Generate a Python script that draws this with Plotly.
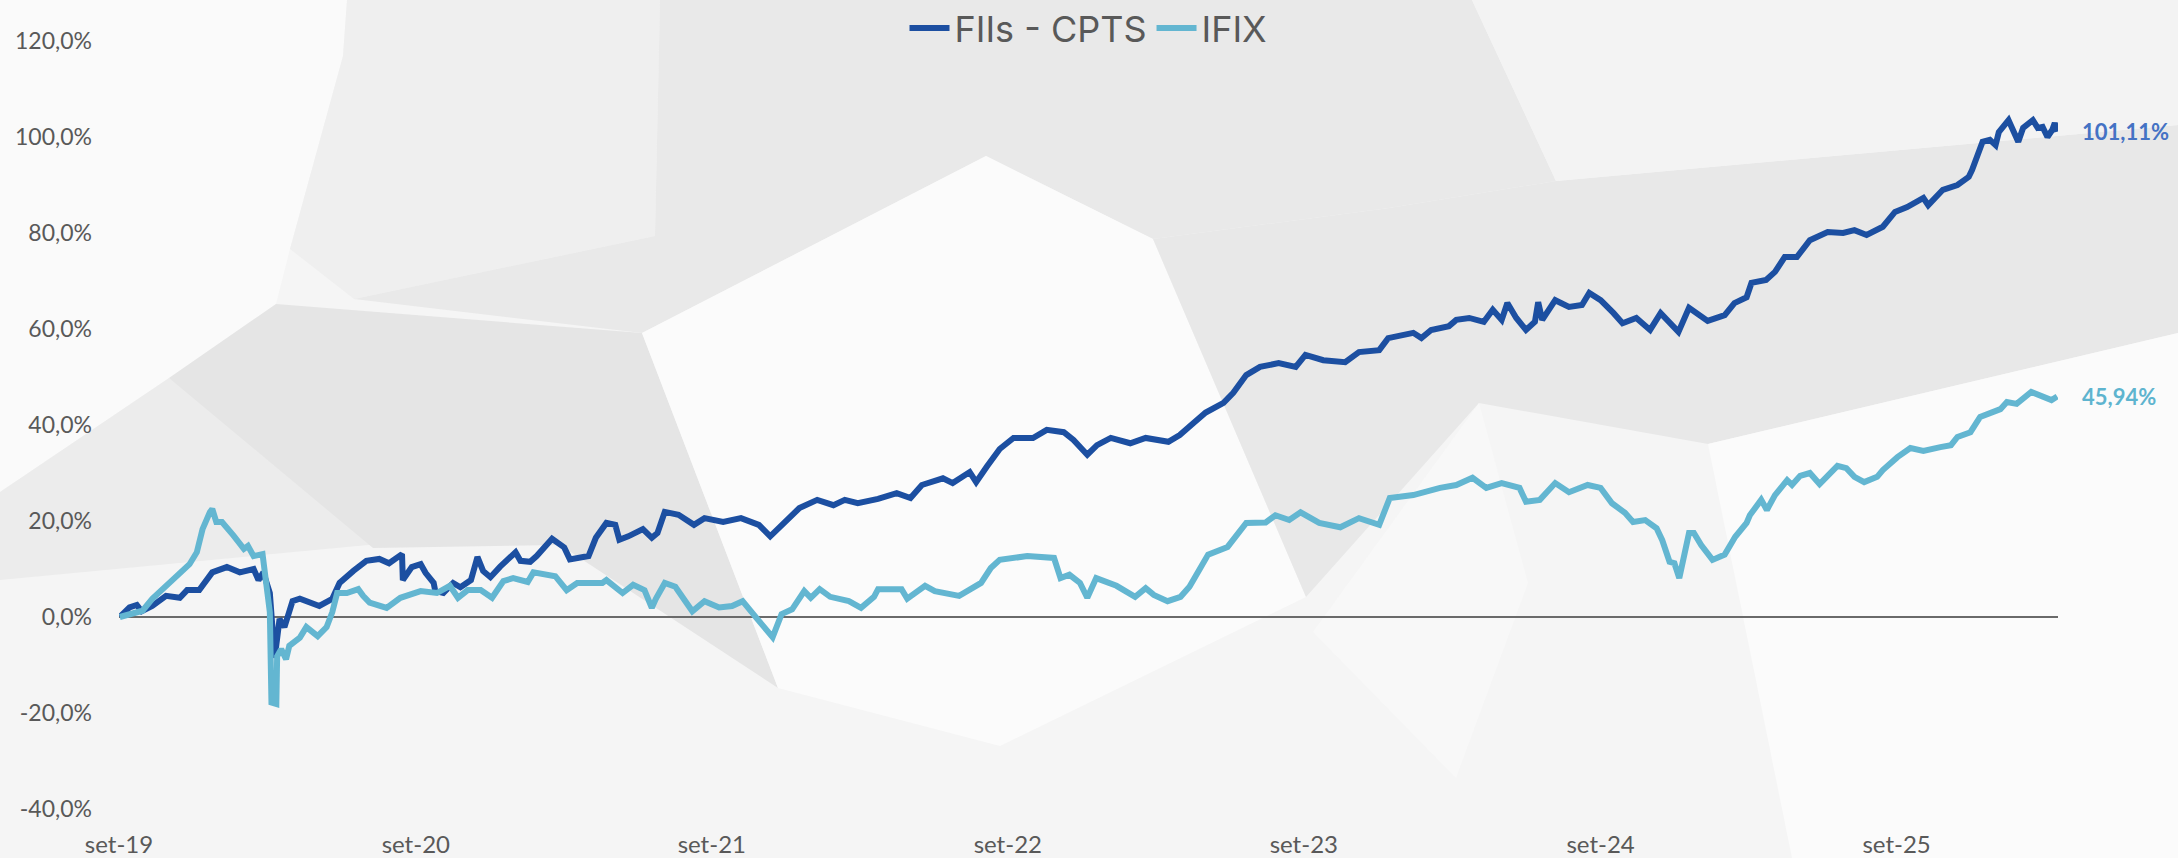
import plotly.graph_objects as go

# ---------------- data ----------------
cpts_dates = [
    "2019-09-02", "2019-09-14", "2019-09-23", "2019-09-29", "2019-10-12", "2019-10-29", "2019-11-15", "2019-11-24",
    "2019-12-09", "2019-12-25", "2020-01-12", "2020-01-28", "2020-02-14", "2020-02-20", "2020-02-26", "2020-03-05",
    "2020-03-11", "2020-03-17", "2020-03-23", "2020-04-02", "2020-04-11", "2020-05-05", "2020-05-21", "2020-05-30",
    "2020-06-16", "2020-07-02", "2020-07-18", "2020-07-30", "2020-08-15", "2020-08-16", "2020-08-27", "2020-09-07",
    "2020-09-13", "2020-09-23", "2020-09-25", "2020-10-05", "2020-10-17", "2020-10-26", "2020-11-08", "2020-11-16",
    "2020-11-23", "2020-12-02", "2020-12-14", "2021-01-02", "2021-01-08", "2021-01-20", "2021-01-28", "2021-02-16",
    "2021-03-03", "2021-03-10", "2021-04-02", "2021-04-11", "2021-04-24", "2021-05-05", "2021-05-10", "2021-05-21",
    "2021-06-08", "2021-06-19", "2021-06-26", "2021-07-05", "2021-07-22", "2021-08-10", "2021-08-23", "2021-09-15",
    "2021-10-07", "2021-10-29", "2021-11-12", "2021-11-21", "2021-12-02", "2021-12-18", "2022-01-09", "2022-01-29",
    "2022-02-12", "2022-02-28", "2022-03-25", "2022-04-17", "2022-05-04", "2022-05-18", "2022-06-13", "2022-06-25",
    "2022-07-16", "2022-07-24", "2022-08-06", "2022-08-22", "2022-09-08", "2022-10-02", "2022-10-19", "2022-11-09",
    "2022-11-21", "2022-12-08", "2022-12-20", "2023-01-06", "2023-01-30", "2023-02-18", "2023-03-18", "2023-04-01",
    "2023-04-18", "2023-05-03", "2023-05-25", "2023-06-06", "2023-06-22", "2023-07-09", "2023-08-01", "2023-08-22",
    "2023-09-03", "2023-09-25", "2023-10-22", "2023-11-08", "2023-12-03", "2023-12-14", "2024-01-14", "2024-01-24",
    "2024-02-05", "2024-02-27", "2024-03-07", "2024-03-23", "2024-04-10", "2024-04-21", "2024-05-02", "2024-05-09",
    "2024-05-20", "2024-06-01", "2024-06-12", "2024-06-16", "2024-06-21", "2024-07-07", "2024-07-24", "2024-08-09",
    "2024-08-18", "2024-09-01", "2024-09-17", "2024-09-28", "2024-10-15", "2024-11-01", "2024-11-14", "2024-11-28",
    "2024-12-06", "2024-12-19", "2025-01-01", "2025-01-11", "2025-02-01", "2025-02-13", "2025-02-28", "2025-03-06",
    "2025-03-24", "2025-04-04", "2025-04-16", "2025-05-01", "2025-05-17", "2025-06-08", "2025-06-27", "2025-07-11",
    "2025-07-26", "2025-08-15", "2025-08-30", "2025-09-14", "2025-10-04", "2025-10-10", "2025-10-28", "2025-11-15",
    "2025-11-29", "2025-12-03", "2025-12-16", "2025-12-25", "2026-01-01", "2026-01-05", "2026-01-17", "2026-01-23",
    "2026-01-29", "2026-02-04", "2026-02-16", "2026-02-22", "2026-02-28", "2026-03-06", "2026-03-12", "2026-03-15",
    "2026-03-18",
]
cpts_values = [
    0.0, 2.0, 2.5, 1.2, 2.3, 4.4, 4.0, 5.6,
    5.6, 9.3, 10.4, 9.3, 10.0, 7.7, 9.3, 5.0,
    -8.5, -0.4, -2.1, 3.3, 3.8, 2.3, 3.8, 7.1,
    9.6, 11.7, 12.1, 11.2, 13.1, 7.7, 10.4, 11.0,
    9.2, 7.1, 5.4, 5.0, 7.1, 6.2, 7.7, 12.5,
    9.6, 8.3, 10.5, 13.5, 11.7, 11.5, 12.7, 16.3,
    14.5, 12.0, 12.7, 16.5, 19.6, 19.2, 16.1, 16.8,
    18.3, 16.5, 17.5, 21.9, 21.3, 19.2, 20.6, 19.8,
    20.6, 19.2, 16.8, 18.3, 20.2, 22.7, 24.4, 23.3,
    24.4, 23.7, 24.6, 25.8, 24.8, 27.5, 28.9, 27.9,
    30.2, 28.1, 31.3, 35.0, 37.3, 37.3, 39.0, 38.5,
    36.9, 33.8, 35.8, 37.3, 36.2, 37.3, 36.5, 37.9,
    40.4, 42.6, 44.6, 46.7, 50.4, 52.1, 52.9, 52.1,
    54.6, 53.5, 53.1, 55.2, 55.6, 58.1, 59.2, 58.1,
    59.8, 60.6, 61.9, 62.3, 61.5, 64.0, 61.9, 65.4,
    62.3, 59.8, 61.5, 65.6, 61.9, 66.0, 64.6, 65.0,
    67.5, 66.0, 63.3, 61.2, 62.3, 59.8, 63.3, 60.8,
    59.4, 64.4, 62.9, 61.7, 62.9, 65.4, 66.6, 69.6,
    70.2, 71.9, 75.0, 75.0, 78.5, 80.2, 80.0, 80.6,
    79.6, 81.3, 84.4, 85.4, 87.3, 85.8, 89.0, 90.0,
    91.7, 93.1, 99.0, 99.4, 98.3, 101.0, 103.5, 101.5,
    99.0, 101.9, 103.5, 101.9, 102.1, 100.0, 101.5, 102.9,
    101.11,
]

ifix_dates = [
    "2019-09-02", "2019-09-18", "2019-09-30", "2019-10-12", "2019-10-29", "2019-11-15", "2019-11-27", "2019-12-06",
    "2019-12-13", "2019-12-22", "2019-12-25", "2019-12-30", "2020-01-06", "2020-01-20", "2020-02-02", "2020-02-07",
    "2020-02-14", "2020-02-25", "2020-02-28", "2020-03-05", "2020-03-07", "2020-03-13", "2020-03-14", "2020-03-19",
    "2020-03-25", "2020-03-29", "2020-04-11", "2020-04-19", "2020-05-03", "2020-05-14", "2020-05-21", "2020-05-27",
    "2020-06-08", "2020-06-22", "2020-06-28", "2020-07-06", "2020-07-27", "2020-08-13", "2020-09-07", "2020-09-27",
    "2020-10-13", "2020-10-23", "2020-11-04", "2020-11-20", "2020-12-04", "2020-12-18", "2020-12-30", "2021-01-08",
    "2021-01-17", "2021-01-24", "2021-02-09", "2021-02-20", "2021-03-06", "2021-03-19", "2021-04-19", "2021-04-24",
    "2021-05-14", "2021-05-27", "2021-06-10", "2021-06-19", "2021-06-24", "2021-07-05", "2021-07-18", "2021-08-08",
    "2021-08-23", "2021-09-10", "2021-09-26", "2021-10-09", "2021-10-27", "2021-11-15", "2021-11-26", "2021-12-09",
    "2021-12-24", "2022-01-01", "2022-01-12", "2022-01-25", "2022-02-17", "2022-03-04", "2022-03-20", "2022-03-25",
    "2022-04-23", "2022-04-30", "2022-05-22", "2022-06-03", "2022-07-03", "2022-07-19", "2022-07-30", "2022-08-11",
    "2022-08-22", "2022-09-25", "2022-10-28", "2022-11-05", "2022-11-16", "2022-11-29", "2022-12-08", "2022-12-19",
    "2023-01-13", "2023-02-05", "2023-02-18", "2023-02-28", "2023-03-17", "2023-04-02", "2023-04-13", "2023-04-25",
    "2023-05-06", "2023-05-30", "2023-06-22", "2023-07-16", "2023-07-28", "2023-08-14", "2023-08-28", "2023-09-20",
    "2023-10-16", "2023-11-08", "2023-12-03", "2023-12-16", "2024-01-14", "2024-02-16", "2024-03-07", "2024-03-27",
    "2024-04-13", "2024-05-02", "2024-05-24", "2024-06-01", "2024-06-18", "2024-07-07", "2024-07-24", "2024-08-16",
    "2024-09-01", "2024-09-15", "2024-10-01", "2024-10-11", "2024-10-26", "2024-11-09", "2024-11-16", "2024-11-25",
    "2024-12-01", "2024-12-07", "2024-12-12", "2024-12-19", "2024-12-25", "2025-01-03", "2025-01-17", "2025-02-01",
    "2025-02-14", "2025-02-28", "2025-03-04", "2025-03-18", "2025-03-25", "2025-04-04", "2025-04-19", "2025-04-25",
    "2025-05-05", "2025-05-17", "2025-05-29", "2025-06-07", "2025-06-20", "2025-07-01", "2025-07-11", "2025-07-23",
    "2025-08-08", "2025-08-15", "2025-09-02", "2025-09-18", "2025-10-04", "2025-10-25", "2025-11-07", "2025-11-15",
    "2025-12-01", "2025-12-13", "2025-12-25", "2026-01-07", "2026-01-15", "2026-01-27", "2026-02-14", "2026-02-28",
    "2026-03-11", "2026-03-18",
]
ifix_values = [
    0.0, 0.6, 1.3, 3.8, 6.5, 9.0, 11.0, 13.5,
    18.3, 21.8, 22.5, 19.8, 19.8, 17.0, 14.2, 14.8,
    12.7, 13.1, 8.5, 1.0, -17.8, -18.1, -8.2, -6.7,
    -8.8, -6.0, -4.3, -2.1, -4.0, -2.1, 1.0, 5.0,
    5.0, 5.8, 4.4, 3.0, 1.9, 4.0, 5.4, 5.0,
    6.5, 4.0, 5.6, 5.6, 4.0, 7.5, 8.1, 7.7,
    7.3, 9.3, 9.0, 8.5, 5.6, 7.1, 7.1, 7.7,
    5.0, 6.7, 5.6, 1.9, 3.8, 7.1, 6.3, 1.2,
    3.3, 2.0, 2.3, 3.3, -0.4, -4.2, 0.6, 1.6,
    5.4, 4.0, 5.8, 4.2, 3.3, 1.9, 4.2, 5.8,
    5.8, 3.8, 6.5, 5.4, 4.4, 6.0, 7.1, 10.2,
    11.9, 12.7, 12.3, 8.1, 8.8, 7.1, 4.0, 8.1,
    6.5, 4.2, 6.0, 4.6, 3.3, 4.2, 6.3, 9.8,
    13.0, 14.6, 19.6, 19.7, 21.2, 20.2, 21.8, 19.6,
    18.7, 20.6, 19.2, 24.8, 25.4, 26.9, 27.5, 29.0,
    26.9, 27.9, 26.9, 24.0, 24.4, 27.9, 26.0, 27.5,
    26.9, 23.7, 21.7, 19.8, 20.2, 18.5, 16.0, 11.5,
    11.2, 8.1, 12.5, 17.5, 17.5, 15.0, 11.9, 13.0,
    16.7, 19.6, 21.2, 24.4, 22.3, 25.4, 28.5, 27.5,
    29.4, 30.0, 27.7, 29.2, 31.5, 31.0, 29.2, 28.1,
    29.2, 30.6, 33.3, 35.2, 34.6, 35.4, 35.8, 37.5,
    38.5, 41.7, 42.5, 43.3, 44.8, 44.4, 46.9, 45.8,
    45.2, 45.94,
]

series_names = ["FIIs - CPTS", "IFIX"]
x_tick_dates = ["2019-09-01", "2020-09-01", "2021-09-01", "2022-09-01", "2023-09-01", "2024-09-01", "2025-09-01"]
x_tick_labels = ["set-19", "set-20", "set-21", "set-22", "set-23", "set-24", "set-25"]
y_ticks = [-40, -20, 0, 20, 40, 60, 80, 100, 120]
y_tick_labels = [f"{v:.1f}%".replace(".", ",") for v in y_ticks]

# ---------------- styling ----------------
W, H = 2178, 858
L, R, T, B = 119, 120, 0, 49
PW, PH = W - L - R, H - T - B
Y_MIN = -40
PX_PER_UNIT = (H - B - 41) / 160.0          # 120% sits 41 px from the top
Y_MAX = Y_MIN + PH / PX_PER_UNIT

C_CPTS = "#1C4FA1"
C_IFIX = "#63B6D1"
TXT = "#595959"


def to_paper(px, py):
    return (px - L) / PW, (H - B - py) / PH


# decorative low-poly background (pixel coords)
bg_polys = [
    ("#FAFAFA", [(0, 0), (347, 0), (343, 56), (290, 249), (276, 304), (169, 378), (0, 492)]),
    ("#ECECEC", [(0, 492), (169, 378), (400, 542), (0, 580)]),
    ("#E5E5E5", [(169, 378), (276, 304), (642, 333), (778, 688), (560, 545), (373, 548)]),
    ("#EFEFEF", [(347, 0), (660, 0), (655, 236), (354, 299), (290, 249), (343, 56)]),
    ("#E9E9E9", [(660, 0), (1472, 0), (1556, 181), (1389, 208), (1153, 239), (986, 156), (642, 333), (354, 299), (655, 236)]),
    ("#FBFBFB", [(642, 333), (986, 156), (1153, 239), (1306, 597), (1000, 746), (778, 688)]),
    ("#E8E8E8", [(1389, 208), (1556, 181), (2178, 125), (2178, 333), (1708, 444), (1479, 403), (1306, 597), (1153, 239)]),
    ("#F3F3F3", [(1472, 0), (2178, 0), (2178, 125), (1556, 181)]),
    ("#FBFBFB", [(1708, 444), (2178, 333), (2178, 858), (1792, 858)]),
    ("#F8F8F8", [(1313, 632), (1479, 403), (1528, 583), (1456, 778)]),
]

shapes = []
for color, pts in bg_polys:
    pp = [to_paper(x, y) for x, y in pts]
    path = "M " + " L ".join(f"{x:.5f},{y:.5f}" for x, y in pp) + " Z"
    shapes.append(dict(type="path", xref="paper", yref="paper", path=path,
                       fillcolor=color, line=dict(width=0), layer="below"))

fig = go.Figure()
fig.add_trace(go.Scatter(x=cpts_dates, y=cpts_values, mode="lines", name=series_names[0],
                         line=dict(color=C_CPTS, width=6), cliponaxis=False))
fig.add_trace(go.Scatter(x=ifix_dates, y=ifix_values, mode="lines", name=series_names[1],
                         line=dict(color=C_IFIX, width=6), cliponaxis=False))


def pct_label(v):
    return f"{v:.2f}%".replace(".", ",")


label_x = (2080 - L) / PW
annotations = [
    dict(x=label_x, xref="paper", y=cpts_values[-1], yref="y", xanchor="left", yanchor="middle",
         text="<b>" + pct_label(cpts_values[-1]) + "</b>", showarrow=False,
         font=dict(family="Lato", size=22, color="#4472C4")),
    dict(x=label_x, xref="paper", y=ifix_values[-1], yref="y", xanchor="left", yanchor="middle",
         text="<b>" + pct_label(ifix_values[-1]) + "</b>", showarrow=False,
         font=dict(family="Lato", size=22, color="#5EB4CF")),
]

fig.update_layout(
    width=W, height=H,
    margin=dict(l=L, r=R, t=T, b=B, pad=0, autoexpand=False),
    paper_bgcolor="#F5F5F5",
    plot_bgcolor="rgba(0,0,0,0)",
    shapes=shapes,
    annotations=annotations,
    hovermode=False,
    legend=dict(orientation="h", x=0.5, xanchor="center", y=(H - B - 28) / PH, yanchor="middle",
                font=dict(family="Inter", size=36, color=TXT), bgcolor="rgba(0,0,0,0)",
                itemwidth=40),
    xaxis=dict(type="date", range=["2019-09-01", "2026-03-19"], tickvals=x_tick_dates, ticktext=x_tick_labels,
               showgrid=False, zeroline=False, showline=False, ticks="", automargin=False,
               tickfont=dict(family="Lato", size=24, color=TXT), ticklabelstandoff=19),
    yaxis=dict(range=[Y_MIN, Y_MAX], tickvals=y_ticks, ticktext=y_tick_labels,
               showgrid=False, zeroline=True, zerolinecolor="#6A6A6A", zerolinewidth=2,
               showline=False, ticks="", automargin=False, tickfont=dict(family="Lato", size=23, color=TXT),
               ticklabelstandoff=26),
)

fig.write_html(
    "out.html",
    config={"displayModeBar": False, "staticPlot": True},
    post_script="document.body.style.margin='0';document.body.style.overflow='hidden';",
)
